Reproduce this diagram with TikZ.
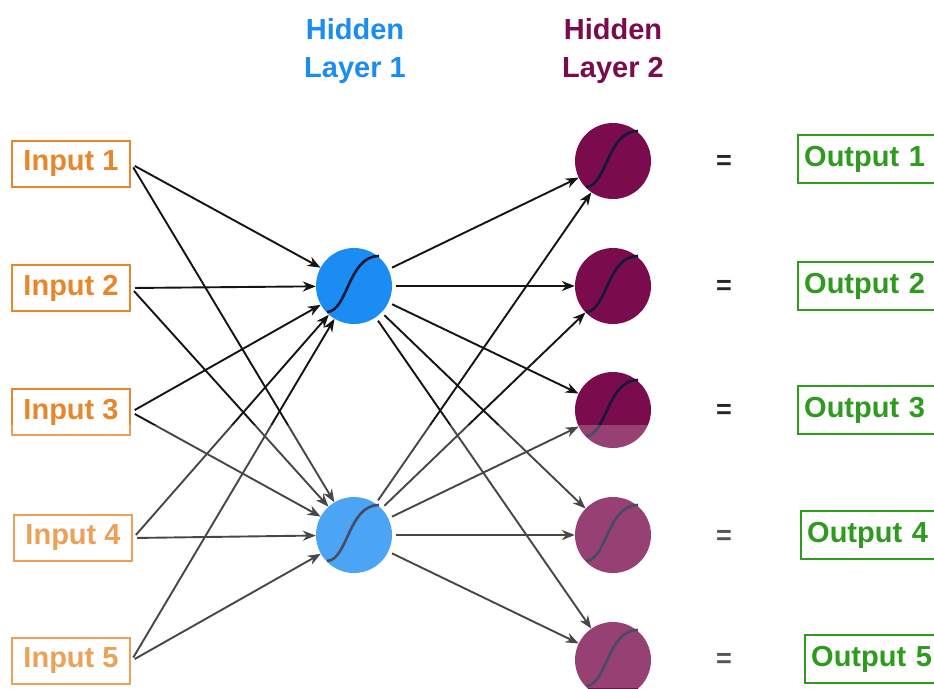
\documentclass[tikz,border=0pt]{standalone}
\usepackage{fontspec}
\setmainfont{Liberation Sans}
\usetikzlibrary{arrows.meta}
\definecolor{inorange}{HTML}{E8862A}
\definecolor{hblue}{HTML}{1A8CF2}
\definecolor{hpurple}{HTML}{7A0B4C}
\definecolor{ogreen}{HTML}{2E9A1E}
\definecolor{curvecol}{HTML}{14193A}
\definecolor{eqgray}{HTML}{262626}
\begin{document}
\begin{tikzpicture}[x=1pt,y=-1pt,
  lbl/.style={font=\fontsize{29}{38}\selectfont\bfseries},
  inbox/.style={lbl, draw=inorange, line width=2.4pt, text=inorange, minimum width=118pt, minimum height=46pt, inner sep=0pt},
  outbox/.style={lbl, draw=ogreen, line width=2.4pt, text=ogreen, text width=132pt, align=left, minimum height=48pt, inner xsep=6pt, inner ysep=0pt, anchor=west},
  neuron/.style={circle, minimum size=76pt, inner sep=0pt},
  hid/.style={neuron, fill=hblue},
  outn/.style={neuron, fill=hpurple},
  eqs/.style={font=\fontsize{27}{30}\selectfont\bfseries, text=eqgray},
  arr/.style={-{Stealth[length=13pt,width=10pt]}, line width=1.9pt, draw=black!92, shorten <=4pt},
  pics/sig/.style={code={\draw[line width=2.6pt, draw=curvecol] (-27,26) .. controls (-6,25) and (-6,-30) .. (25,-30);}}
]
\useasboundingbox (0,0) rectangle (934,688);
\fill[white] (0,0) rectangle (934,688);

% titles
\node[lbl, text=hblue, align=center] (t1) at (355,51) {Hidden\\Layer 1};
\node[lbl, text=hpurple, align=center] (t2) at (613,51) {Hidden\\Layer 2};

% inputs
\node[inbox] (i1) at (71,164) {Input 1};
\node[inbox] (i2) at (71,288) {Input 2};
\node[inbox] (i3) at (71,412) {Input 3};
\node[inbox] (i4) at (73,538) {Input 4};
\node[inbox] (i5) at (71,661) {Input 5};

% hidden layer 1
\node[hid] (h1) at (354,286) {};
\node[hid] (h2) at (354,535) {};
\pic at (h1) {sig};
\pic at (h2) {sig};

% hidden layer 2
\foreach \k/\y in {1/161,2/286,3/410,4/535,5/660}{
  \node[outn] (o\k) at (613,\y) {};
  \pic at (o\k) {sig};
}

% equals
\foreach \k/\y in {1/162,2/287,3/411,4/537,5/660}{
  \node[eqs] (e\k) at (724,\y) {=};
}

% outputs
\node[outbox] (r1) at (797,159) {Output 1};
\node[outbox] (r2) at (797,286) {Output 2};
\node[outbox] (r3) at (797,410) {Output 3};
\node[outbox] (r4) at (800,535) {Output 4};
\node[outbox] (r5) at (804,659) {Output 5};

% connections input -> hidden
\foreach \k in {1,...,5}{
  \draw[arr] (i\k.east) -- (h1);
  \draw[arr] (i\k.east) -- (h2);
}
% connections hidden -> output layer
\foreach \k in {1,...,5}{
  \draw[arr] (h1) -- (o\k);
  \draw[arr] (h2) -- (o\k);
}

% faded lower part
\fill[white, opacity=0.22] (0,425) rectangle (785,688);
\end{tikzpicture}
\end{document}
